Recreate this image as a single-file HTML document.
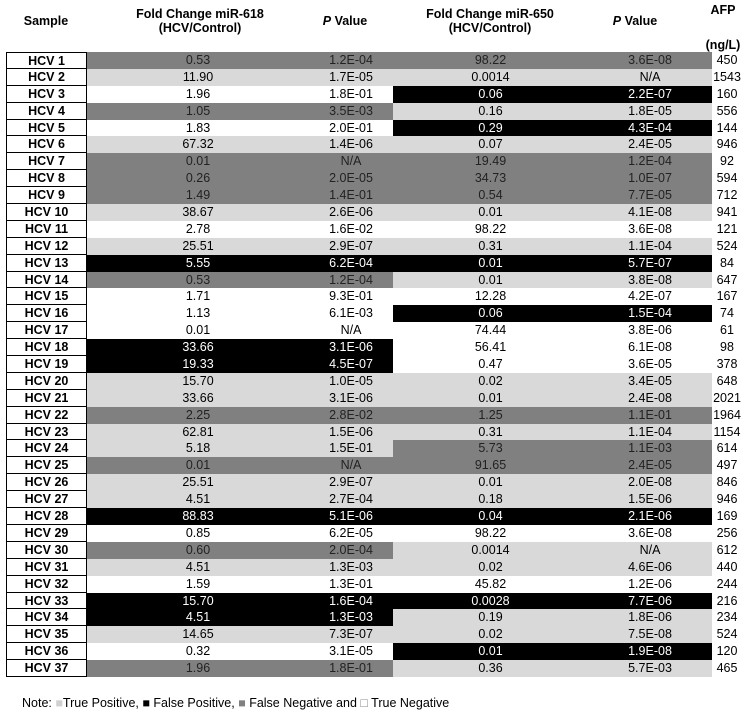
<!DOCTYPE html><html><head><style>
body{margin:0;width:742px;height:714px;background:#fff;font-family:"Liberation Sans",sans-serif;font-size:12.5px;color:#000;position:relative;overflow:hidden}
.h{position:absolute;font-weight:bold;text-align:center;line-height:14px;font-size:12.5px}
#rows{position:absolute;top:52px;left:6px}
.r{height:16.9px;display:flex;line-height:17.5px}
.s{width:79px;border:1px solid #000;border-top:none;font-weight:bold;text-align:center;line-height:17px;box-sizing:content-box;height:15.9px;background:#fff;overflow:hidden}
.r:first-child .s{border-top:1px solid #000;height:14.9px;line-height:16px}
.g{display:flex}
.L{width:306px}.R{width:319px}
.L span:first-child{width:222px;text-align:center}
.L span:last-child{width:84px;text-align:center}
.R span:first-child{width:195px;text-align:center}
.R span:last-child{width:124px;text-align:center}
.a{width:30px;text-align:center}
.T{background:#d9d9d9}.F{background:#000;color:#fff}.N{background:#808080;color:#222}.W{background:#fff}
</style></head><body>
<div class="h" style="left:10px;top:14px;width:72px">Sample</div>
<div class="h" style="left:120px;top:7px;width:160px">Fold Change miR-618<br>(HCV/Control)</div>
<div class="h" style="left:300px;top:14px;width:90px"><i>P</i> Value</div>
<div class="h" style="left:410px;top:7px;width:160px">Fold Change miR-650<br>(HCV/Control)</div>
<div class="h" style="left:590px;top:14px;width:90px"><i>P</i> Value</div>
<div class="h" style="left:700px;top:3px;width:46px">AFP</div>
<div class="h" style="left:700px;top:38px;width:46px">(ng/L)</div>
<div id="rows">
<div class="r"><div class="s">HCV 1</div><div class="g L N"><span>0.53</span><span>1.2E-04</span></div><div class="g R N"><span>98.22</span><span>3.6E-08</span></div><div class="a">450</div></div>
<div class="r"><div class="s">HCV 2</div><div class="g L T"><span>11.90</span><span>1.7E-05</span></div><div class="g R T"><span>0.0014</span><span>N/A</span></div><div class="a">1543</div></div>
<div class="r"><div class="s">HCV 3</div><div class="g L W"><span>1.96</span><span>1.8E-01</span></div><div class="g R F"><span>0.06</span><span>2.2E-07</span></div><div class="a">160</div></div>
<div class="r"><div class="s">HCV 4</div><div class="g L N"><span>1.05</span><span>3.5E-03</span></div><div class="g R T"><span>0.16</span><span>1.8E-05</span></div><div class="a">556</div></div>
<div class="r"><div class="s">HCV 5</div><div class="g L W"><span>1.83</span><span>2.0E-01</span></div><div class="g R F"><span>0.29</span><span>4.3E-04</span></div><div class="a">144</div></div>
<div class="r"><div class="s">HCV 6</div><div class="g L T"><span>67.32</span><span>1.4E-06</span></div><div class="g R T"><span>0.07</span><span>2.4E-05</span></div><div class="a">946</div></div>
<div class="r"><div class="s">HCV 7</div><div class="g L N"><span>0.01</span><span>N/A</span></div><div class="g R N"><span>19.49</span><span>1.2E-04</span></div><div class="a">92</div></div>
<div class="r"><div class="s">HCV 8</div><div class="g L N"><span>0.26</span><span>2.0E-05</span></div><div class="g R N"><span>34.73</span><span>1.0E-07</span></div><div class="a">594</div></div>
<div class="r"><div class="s">HCV 9</div><div class="g L N"><span>1.49</span><span>1.4E-01</span></div><div class="g R N"><span>0.54</span><span>7.7E-05</span></div><div class="a">712</div></div>
<div class="r"><div class="s">HCV 10</div><div class="g L T"><span>38.67</span><span>2.6E-06</span></div><div class="g R T"><span>0.01</span><span>4.1E-08</span></div><div class="a">941</div></div>
<div class="r"><div class="s">HCV 11</div><div class="g L W"><span>2.78</span><span>1.6E-02</span></div><div class="g R W"><span>98.22</span><span>3.6E-08</span></div><div class="a">121</div></div>
<div class="r"><div class="s">HCV 12</div><div class="g L T"><span>25.51</span><span>2.9E-07</span></div><div class="g R T"><span>0.31</span><span>1.1E-04</span></div><div class="a">524</div></div>
<div class="r"><div class="s">HCV 13</div><div class="g L F"><span>5.55</span><span>6.2E-04</span></div><div class="g R F"><span>0.01</span><span>5.7E-07</span></div><div class="a">84</div></div>
<div class="r"><div class="s">HCV 14</div><div class="g L N"><span>0.53</span><span>1.2E-04</span></div><div class="g R T"><span>0.01</span><span>3.8E-08</span></div><div class="a">647</div></div>
<div class="r"><div class="s">HCV 15</div><div class="g L W"><span>1.71</span><span>9.3E-01</span></div><div class="g R W"><span>12.28</span><span>4.2E-07</span></div><div class="a">167</div></div>
<div class="r"><div class="s">HCV 16</div><div class="g L W"><span>1.13</span><span>6.1E-03</span></div><div class="g R F"><span>0.06</span><span>1.5E-04</span></div><div class="a">74</div></div>
<div class="r"><div class="s">HCV 17</div><div class="g L W"><span>0.01</span><span>N/A</span></div><div class="g R W"><span>74.44</span><span>3.8E-06</span></div><div class="a">61</div></div>
<div class="r"><div class="s">HCV 18</div><div class="g L F"><span>33.66</span><span>3.1E-06</span></div><div class="g R W"><span>56.41</span><span>6.1E-08</span></div><div class="a">98</div></div>
<div class="r"><div class="s">HCV 19</div><div class="g L F"><span>19.33</span><span>4.5E-07</span></div><div class="g R W"><span>0.47</span><span>3.6E-05</span></div><div class="a">378</div></div>
<div class="r"><div class="s">HCV 20</div><div class="g L T"><span>15.70</span><span>1.0E-05</span></div><div class="g R T"><span>0.02</span><span>3.4E-05</span></div><div class="a">648</div></div>
<div class="r"><div class="s">HCV 21</div><div class="g L T"><span>33.66</span><span>3.1E-06</span></div><div class="g R T"><span>0.01</span><span>2.4E-08</span></div><div class="a">2021</div></div>
<div class="r"><div class="s">HCV 22</div><div class="g L N"><span>2.25</span><span>2.8E-02</span></div><div class="g R N"><span>1.25</span><span>1.1E-01</span></div><div class="a">1964</div></div>
<div class="r"><div class="s">HCV 23</div><div class="g L T"><span>62.81</span><span>1.5E-06</span></div><div class="g R T"><span>0.31</span><span>1.1E-04</span></div><div class="a">1154</div></div>
<div class="r"><div class="s">HCV 24</div><div class="g L T"><span>5.18</span><span>1.5E-01</span></div><div class="g R N"><span>5.73</span><span>1.1E-03</span></div><div class="a">614</div></div>
<div class="r"><div class="s">HCV 25</div><div class="g L N"><span>0.01</span><span>N/A</span></div><div class="g R N"><span>91.65</span><span>2.4E-05</span></div><div class="a">497</div></div>
<div class="r"><div class="s">HCV 26</div><div class="g L T"><span>25.51</span><span>2.9E-07</span></div><div class="g R T"><span>0.01</span><span>2.0E-08</span></div><div class="a">846</div></div>
<div class="r"><div class="s">HCV 27</div><div class="g L T"><span>4.51</span><span>2.7E-04</span></div><div class="g R T"><span>0.18</span><span>1.5E-06</span></div><div class="a">946</div></div>
<div class="r"><div class="s">HCV 28</div><div class="g L F"><span>88.83</span><span>5.1E-06</span></div><div class="g R F"><span>0.04</span><span>2.1E-06</span></div><div class="a">169</div></div>
<div class="r"><div class="s">HCV 29</div><div class="g L W"><span>0.85</span><span>6.2E-05</span></div><div class="g R W"><span>98.22</span><span>3.6E-08</span></div><div class="a">256</div></div>
<div class="r"><div class="s">HCV 30</div><div class="g L N"><span>0.60</span><span>2.0E-04</span></div><div class="g R T"><span>0.0014</span><span>N/A</span></div><div class="a">612</div></div>
<div class="r"><div class="s">HCV 31</div><div class="g L T"><span>4.51</span><span>1.3E-03</span></div><div class="g R T"><span>0.02</span><span>4.6E-06</span></div><div class="a">440</div></div>
<div class="r"><div class="s">HCV 32</div><div class="g L W"><span>1.59</span><span>1.3E-01</span></div><div class="g R W"><span>45.82</span><span>1.2E-06</span></div><div class="a">244</div></div>
<div class="r"><div class="s">HCV 33</div><div class="g L F"><span>15.70</span><span>1.6E-04</span></div><div class="g R F"><span>0.0028</span><span>7.7E-06</span></div><div class="a">216</div></div>
<div class="r"><div class="s">HCV 34</div><div class="g L F"><span>4.51</span><span>1.3E-03</span></div><div class="g R T"><span>0.19</span><span>1.8E-06</span></div><div class="a">234</div></div>
<div class="r"><div class="s">HCV 35</div><div class="g L T"><span>14.65</span><span>7.3E-07</span></div><div class="g R T"><span>0.02</span><span>7.5E-08</span></div><div class="a">524</div></div>
<div class="r"><div class="s">HCV 36</div><div class="g L W"><span>0.32</span><span>3.1E-05</span></div><div class="g R F"><span>0.01</span><span>1.9E-08</span></div><div class="a">120</div></div>
<div class="r"><div class="s">HCV 37</div><div class="g L N"><span>1.96</span><span>1.8E-01</span></div><div class="g R T"><span>0.36</span><span>5.7E-03</span></div><div class="a">465</div></div>
</div>
<div style="position:absolute;left:22px;top:696px;font-size:12.5px;white-space:nowrap">Note: <span style="color:#d0d0d0">■</span>True Positive, <span>■</span> False Positive, <span style="color:#808080">■</span> False Negative and <span style="color:#888">□</span> True Negative</div>
</body></html>
